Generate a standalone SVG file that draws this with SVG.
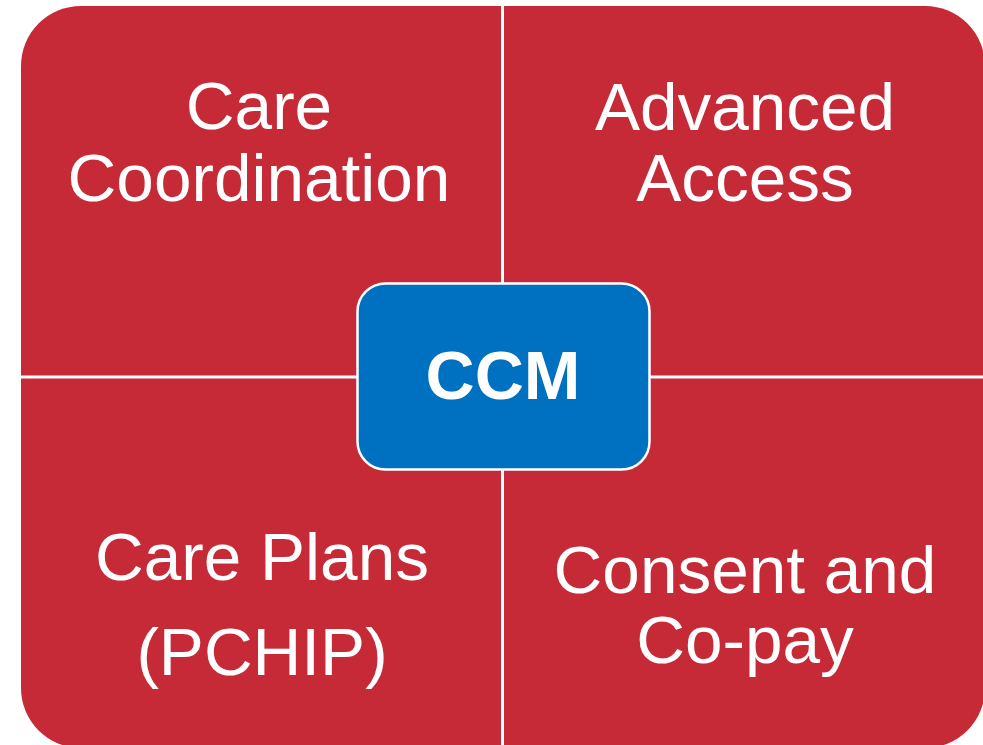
<svg xmlns="http://www.w3.org/2000/svg" width="983" height="745" viewBox="0 0 983 745">
  <style>
    .quad { fill: #C62A37; }
    .lbl { font-family: "Liberation Sans", Arial, sans-serif; font-size: 67.5px; fill: #FFFFFF; text-anchor: middle; }
    .center { fill: #0070C0; stroke: #FFFFFF; stroke-width: 2.5; }
    .ccm { font-family: "Liberation Sans", Arial, sans-serif; font-size: 68px; font-weight: bold; fill: #FFFFFF; text-anchor: middle; }
  </style>
  <rect width="983" height="745" fill="#FFFFFF"/>
  <g id="care-coordination">
    <path class="quad" d="M21 66 A60 60 0 0 1 81 6 L501 6 L501 375.5 L21 375.5 Z"/>
    <text class="lbl" x="259" y="129">Care</text>
    <text class="lbl" x="259" y="201">Coordination</text>
  </g>
  <g id="advanced-access">
    <path class="quad" d="M504 6 L925 6 A60 60 0 0 1 985 66 L985 375.5 L504 375.5 Z"/>
    <text class="lbl" x="745" y="130">Advanced</text>
    <text class="lbl" x="745" y="201">Access</text>
  </g>
  <g id="care-plans">
    <path class="quad" d="M21 378.5 L501 378.5 L501 748 L81 748 A60 60 0 0 1 21 688 Z"/>
    <text class="lbl" x="262" y="580">Care Plans</text>
    <text class="lbl" x="262" y="675">(PCHIP)</text>
  </g>
  <g id="consent-copay">
    <path class="quad" d="M504 378.5 L985 378.5 L985 688 A60 60 0 0 1 925 748 L504 748 Z"/>
    <text class="lbl" x="745" y="593">Consent and</text>
    <text class="lbl" x="745" y="663">Co-pay</text>
  </g>
  <g id="connectors"></g>
  <g id="ccm">
    <rect class="center" x="357.5" y="283.5" width="292" height="186" rx="28" ry="28"/>
    <text class="ccm" x="503" y="399">CCM</text>
  </g>
</svg>
